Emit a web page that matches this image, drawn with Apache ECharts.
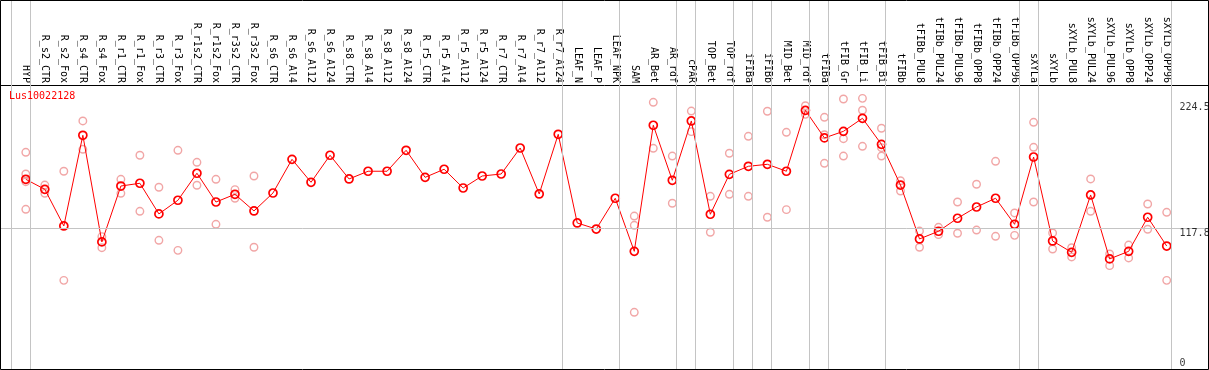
<!DOCTYPE html>
<html>
<head>
<meta charset="utf-8">
<script src="https://cdn.jsdelivr.net/npm/echarts@6/dist/echarts.min.js"></script>
<style>
html,body{margin:0;padding:0;background:#fff;}
#chart{width:1209px;height:370px;}
</style>
</head>
<body>
<div id="chart"></div>
<script>
const geneId = 'Lus10022128';
const categories = ['HYP','R_s2_CTR','R_s2_Fox','R_s4_CTR','R_s4_Fox','R_r1_CTR','R_r1_Fox','R_r3_CTR','R_r3_Fox',
  'R_r1s2_CTR','R_r1s2_Fox','R_r3s2_CTR','R_r3s2_Fox','R_s6_CTR','R_s6_Al4','R_s6_Al12','R_s6_Al24',
  'R_s8_CTR','R_s8_Al4','R_s8_Al12','R_s8_Al24','R_r5_CTR','R_r5_Al4','R_r5_Al12','R_r5_Al24',
  'R_r7_CTR','R_r7_Al4','R_r7_Al12','R_r7_Al24','LEAF_N','LEAF_P','LEAF_NPK','SAM','AR_Bet','AR_rdf',
  'cPAR','TOP_Bet','TOP_rdf','iFIBa','iFIBb','MID_Bet','MID_rdf','tFIBa','tFIB_Gr','tFIB_Li','tFIB_Bi',
  'tFIBb','tFIBb_PUL8','tFIBb_PUL24','tFIBb_PUL96','tFIBb_OPP8','tFIBb_OPP24','tFIBb_OPP96',
  'sXYLa','sXYLb','sXYLb_PUL8','sXYLb_PUL24','sXYLb_PUL96','sXYLb_OPP8','sXYLb_OPP24','sXYLb_OPP96'];
const mainValues = [162.0,152.9,119.7,201.9,105.2,155.9,158.4,130.6,143.0,
  167.5,141.4,148.4,133.3,149.6,180.1,159.3,183.8,
  162.3,169.3,169.3,188.3,163.8,171.1,154.1,165.0,
  166.8,190.4,148.7,202.8,122.4,116.9,144.8,96.7,211.0,161.1,
  214.9,130.3,166.5,173.8,175.6,169.3,224.5,199.5,205.5,217.3,193.7,
  156.8,107.9,114.9,126.7,136.9,144.8,121.2,
  182.2,106.1,95.8,147.8,89.8,96.7,127.6,101.5];
const replicates = [
  [186.5,166.8,159.8,134.8],[156.8,149.3],[169.3,70.4],[214.9,189.2],[110.0,100.0],
  [162.0,149.3],[183.8,133.0],[154.8,106.7],[188.3,97.6],[177.4,156.6],[162.0,121.2],
  [152.6,144.8],[165.0,100.4],
  [],[],[],[],[],[],[],[],[],[],[],[],[],[],[],[],[],[],[],
  [128.7,120.3,41.4],[231.8,190.1],[183.1,140.3],[223.9,205.2],[146.6,114.0],[185.6,148.4],
  [201.0,146.6],[223.7,127.6],[204.6,134.5],[228.7,220.9],[218.2,202.4,176.5],
  [234.8,198.8,183.1],[235.4,224.6,191.9],[208.3,190.7,183.1],
  [160.7,151.4],[115.1,100.4],[118.5,111.8],[141.4,113.1],[157.5,116.0],[178.3,110.3],[131.5,111.2],
  [213.7,191.0,141.4],[113.3,98.8],[100.0,91.6],[162.3,133.0],[94.3,83.7],[102.4,90.7],
  [139.6,116.7],[132.1,70.4]
];
const groupEnds = [-1,0,28,31,34,35,37,38,39,41,42,45,52,53,60];
const yTickValues = [224.5,117.8,0];
const yTickLabels = ['224.5','117.8','0'];
const refValue = 117.8;

// layout constants
const X0 = 25.8, STEP = 19.015, W = 1209;
const xMin = -X0 / STEP, xMax = (W - X0) / STEP;
const sepOffset = 0.22;
const labelX = 60.65;
const FONT = 'DejaVu Sans Mono';

const mainData = mainValues.map((v, i) => [i, v]);
const repData = [];
replicates.forEach((arr, i) => arr.forEach(v => repData.push([i, v])));
const idx = categories.map((c, i) => i);

const chart = echarts.init(document.getElementById('chart'), null, {renderer: 'canvas'});
chart.setOption({
  animation: false,
  backgroundColor: '#fff',
  title: {
    text: geneId, left: 9, top: 91, padding: 0,
    textStyle: {color: '#ff0000', fontFamily: FONT, fontSize: 10, fontWeight: 'normal'}
  },
  grid: [
    {left: 0, right: 0, top: 85, bottom: 1, outerBoundsMode: 'none', containLabel: false},
    {left: 0, right: 0, top: 0, bottom: 0, outerBoundsMode: 'none', containLabel: false}
  ],
  xAxis: [
    {
      type: 'value', gridIndex: 0, position: 'top', min: xMin, max: xMax,
      axisLine: {show: true, onZero: false, lineStyle: {color: '#000', width: 1}},
      axisTick: {show: false}, splitLine: {show: false},
      axisLabel: {
        show: true, customValues: idx, rotate: 90, margin: 2,
        fontFamily: FONT, fontSize: 10, color: '#000',
        formatter: v => categories[Math.round(v)] || ''
      }
    },
    {type: 'value', gridIndex: 1, min: xMin, max: xMax, show: false}
  ],
  yAxis: [
    {type: 'value', gridIndex: 0, min: -10, max: 247.5, show: false, splitLine: {show: false}},
    {type: 'value', gridIndex: 1, min: 0, max: 1, show: false, splitLine: {show: false}}
  ],
  series: [
    {
      type: 'line', xAxisIndex: 1, yAxisIndex: 1, data: [], silent: true,
      markLine: {
        silent: true, symbol: 'none', label: {show: false},
        lineStyle: {color: '#c4c4c4', width: 1, type: 'solid'},
        data: groupEnds.map(g => ({xAxis: g + sepOffset}))
      }
    },
    {
      type: 'scatter', xAxisIndex: 0, yAxisIndex: 0, data: repData, z: 3,
      symbol: 'circle', symbolSize: 7.5,
      itemStyle: {color: 'rgba(0,0,0,0)', borderColor: '#ee9090', borderWidth: 1.4},
      markLine: {
        silent: true, symbol: 'none', label: {show: false},
        lineStyle: {color: '#c4c4c4', width: 1, type: 'solid'},
        data: [{yAxis: refValue}]
      }
    },
    {
      type: 'line', xAxisIndex: 0, yAxisIndex: 0, data: mainData, z: 4,
      symbol: 'circle', symbolSize: 8, showSymbol: true, showAllSymbol: true,
      lineStyle: {color: '#ff0000', width: 1},
      itemStyle: {color: 'rgba(0,0,0,0)', borderColor: '#ff0000', borderWidth: 1.7}
    },
    {
      type: 'scatter', xAxisIndex: 0, yAxisIndex: 0, symbol: 'circle', symbolSize: 1, silent: true, z: 5,
      itemStyle: {color: 'rgba(0,0,0,0)'},
      data: yTickValues.map((v, i) => ({
        value: [labelX, v],
        label: {
          show: true, position: 'right', distance: 0, align: 'left',
          verticalAlign: i === 0 ? 'bottom' : 'top', offset: [0, i === 0 ? 2 : 0],
          formatter: yTickLabels[i], fontFamily: FONT, fontSize: 10, color: '#000'
        }
      }))
    }
  ],
  graphic: [{
    type: 'rect', silent: true, z: 100,
    shape: {x: 0.5, y: 0.5, width: 1208, height: 369},
    style: {fill: 'none', stroke: '#000', lineWidth: 1}
  }]
});
</script>
</body>
</html>
